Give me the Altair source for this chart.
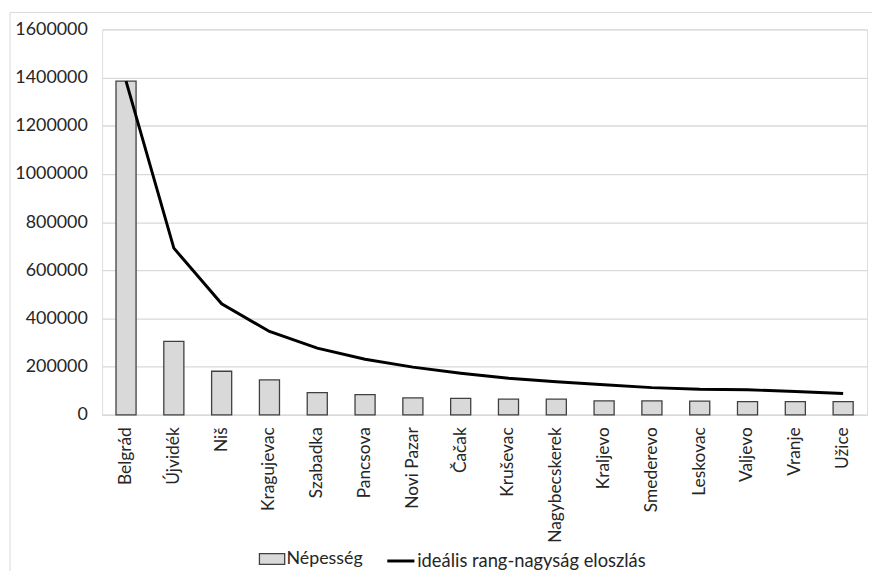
import altair as alt
import pandas as pd

cities = ["Belgrád", "Újvidék", "Niš", "Kragujevac", "Szabadka", "Pancsova",
          "Novi Pazar", "Čačak", "Kruševac", "Nagybecskerek", "Kraljevo",
          "Smederevo", "Leskovac", "Valjevo", "Vranje", "Užice"]
population = [1385000, 305000, 181000, 145000, 92000, 84000,
              70000, 68000, 65000, 65000, 58000,
              58000, 57000, 55000, 55000, 55000]
ideal = [1385000, 692000, 461000, 346000, 277000, 231000,
         198000, 173000, 152000, 137000, 125000,
         113000, 106000, 104000, 97000, 89000]

df = pd.DataFrame({
    "city": cities,
    "pop": population,
    "ideal": ideal,
    "s1": ["Népesség"] * len(cities),
    "s2": ["ideális rang-nagyság eloszlás"] * len(cities),
})

FONT = "Lato"
TXT = "#262626"

x = alt.X("city:N", sort=cities, title=None,
          scale=alt.Scale(paddingInner=0.58, paddingOuter=0.29),
          axis=alt.Axis(labelAngle=-90, labelAlign="right", labelBaseline="middle",
                        labelPadding=12, ticks=False, domain=True,
                        domainColor="#d9d9d9", domainWidth=1.5,
                        labelFontSize=17.5, labelFont=FONT, labelColor=TXT,
                        grid=False))

y_scale = alt.Scale(domain=[0, 1600000], nice=False)

bars = alt.Chart(df).mark_bar(stroke="#404040", strokeWidth=1.3).encode(
    x=x,
    y=alt.Y("pop:Q", scale=y_scale, title=None,
            axis=alt.Axis(values=list(range(0, 1600001, 200000)), format="d",
                          labelFontSize=18, labelFont=FONT, labelColor=TXT,
                          labelPadding=15, ticks=False, domain=False,
                          gridColor="#d9d9d9", gridWidth=1.3)),
    fill=alt.Fill("s1:N", scale=alt.Scale(range=["#d9d9d9"]),
                  legend=alt.Legend(title=None, orient="none", legendX=158, legendY=521,
                                    symbolType="M-1,-0.42H1V0.42H-1Z", symbolSize=650,
                                    symbolStrokeColor="#404040", symbolStrokeWidth=1.3,
                                    labelFontSize=18, labelFont=FONT, labelColor=TXT,
                                    labelOffset=1, labelLimit=400)),
)

line = alt.Chart(df).mark_line(strokeWidth=3).encode(
    x=x,
    y=alt.Y("ideal:Q", scale=y_scale),
    stroke=alt.Stroke("s2:N", scale=alt.Scale(range=["black"]),
                      legend=alt.Legend(title=None, orient="none", legendX=286, legendY=521,
                                        symbolType="stroke", symbolSize=750,
                                        symbolStrokeWidth=3,
                                        labelFontSize=18.5, labelFont=FONT, labelColor=TXT,
                                        labelOffset=1, labelLimit=400)),
)

frame = alt.Chart(pd.DataFrame({"a": [0]})).mark_rect(
    fill=None, stroke="#d9d9d9", strokeWidth=1
).encode(x=alt.value(-93), x2=alt.value(800), y=alt.value(-17), y2=alt.value(580))

chart = alt.layer(frame, bars, line).properties(
    width=772, height=389,
    autosize=alt.AutoSizeParams(type="none"),
    padding={"left": 95, "top": 19, "right": 5, "bottom": 155},
).configure_view(stroke=None).configure(background="white")

chart.save("out.html", embed_options={"renderer": "svg", "actions": False})
